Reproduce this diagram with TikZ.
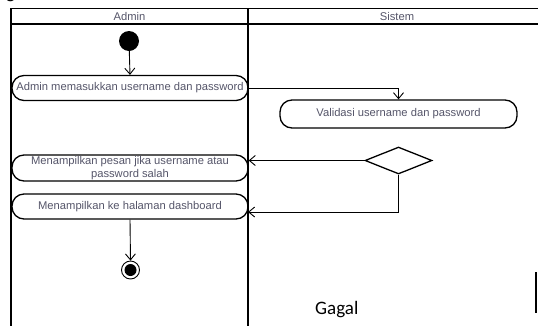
\documentclass[tikz,border=0pt]{standalone}
\usepackage{fontspec}
\setmainfont{Liberation Sans}
\newfontfamily\calib{Carlito}
\usetikzlibrary{arrows.meta,shapes.geometric}
\definecolor{txt}{RGB}{85,85,105}
\begin{document}
\begin{tikzpicture}[x=1pt,y=-1pt,
  act/.style={draw,line width=1.3pt,rounded corners=12pt,minimum width=236pt,minimum height=25pt,inner sep=1pt,font=\fontsize{11.2}{13}\selectfont,text=txt,align=center},
  hdr/.style={font=\fontsize{11.2}{13}\selectfont,text=txt,inner sep=0pt},
  flow/.style={draw,line width=0.9pt,-{Straight Barb[length=6pt,width=10pt]}},
  lane/.style={line width=1.6pt},
  big/.style={font=\calib\fontsize{19}{19}\selectfont,inner sep=0pt,anchor=base west}]
\useasboundingbox (0,0) rectangle (538,325);
\clip (0,0) rectangle (538,325);
% swimlane frame
\draw[lane] (11,8.5) rectangle (546,340);
\draw[lane] (11,24) -- (546,24);
\draw[lane] (248,8.5) -- (248,340);
\node[hdr] (hA) at (129.5,16) {Admin};
\node[hdr] (hS) at (397,16) {Sistem};
% nodes
\node[circle,fill=black,minimum size=20pt,inner sep=0pt] (start) at (129,41) {};
\node[act] (n1) at (130,88) {Admin memasukkan username dan password};
\node[act,minimum width=237pt,minimum height=28pt] (v) at (398.5,114) {Validasi username dan password};
\node[draw,diamond,line width=1.3pt,minimum width=67pt,minimum height=27pt,inner sep=0pt] (d) at (398.5,160.5) {};
\node[act,minimum height=26pt] (n2) at (130,168) {Menampilkan pesan jika username atau\\password salah};
\node[act] (n3) at (130,206.5) {Menampilkan ke halaman dashboard};
\node[circle,draw,line width=0.9pt,minimum size=18pt,inner sep=0pt] (end) at (130.5,270) {};
\node[circle,fill=black,minimum size=12pt,inner sep=0pt] (endin) at (end.center) {};
\coordinate (c3) at (248,212);
% connectors
\draw[flow] (start) -- (n1.north);
\draw[flow] (n1.east) -| (v.north);
\draw[flow] (d.west) -- (d.west -| n2.east);
\draw[flow] (d.south) |- (c3);
\draw[flow] (n3.south) -- (end.north);
% extra texts
\node[big] (gagal) at (315,314) {Gagal};
\node[big] (gtop) at (6,-1.5) {g};
\draw[line width=2pt] (536,272) -- (536,313);
\end{tikzpicture}
\end{document}
